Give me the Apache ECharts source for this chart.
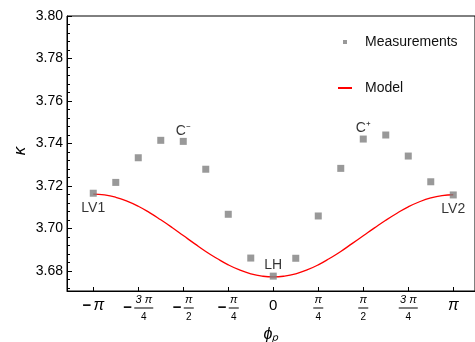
<!DOCTYPE html>
<html><head><meta charset="utf-8">
<script src="https://cdn.jsdelivr.net/npm/echarts@6/dist/echarts.min.js"></script>
<style>html,body{margin:0;padding:0;background:#fff}#c{width:475px;height:342px}</style>
</head><body><div id="c"></div>
<script>
// x ticks, in units of pi/4
const xTickMultiples = [-4, -3, -2, -1, 0, 1, 2, 3, 4];
const xTickLabels = ['−π', '−3π/4', '−π/2', '−π/4', '0', 'π/4', 'π/2', '3π/4', 'π'];
// y ticks
const yTickValues = [3.68, 3.70, 3.72, 3.74, 3.76, 3.78, 3.80];
const yTickLabels = ['3.68', '3.70', '3.72', '3.74', '3.76', '3.78', '3.80'];
// measurements: x in units of pi/8
const measK = [-8, -7, -6, -5, -4, -3, -2, -1, 0, 1, 2, 3, 4, 5, 6, 7, 8];
const measY = [3.7166, 3.7217, 3.7333, 3.7415, 3.7410, 3.7279, 3.7067, 3.6861, 3.6776,
               3.6860, 3.7059, 3.7283, 3.7421, 3.7440, 3.7341, 3.7220, 3.7158];
// point annotations
const annIndex = [0, 4, 8, 12, 16];
const annText = ['LV1', 'C⁻', 'LH', 'C⁺', 'LV2'];
const annPos = ['bottom', 'top', 'top', 'top', 'bottom'];
// model curve: x in units of pi/16
const modelK = [-16,-15,-14,-13,-12,-11,-10,-9,-8,-7,-6,-5,-4,-3,-2,-1,0,1,2,3,4,5,6,7,8,9,10,11,12,13,14,15,16];
const modelY = [3.7162,3.7158,3.7147,3.7129,3.7105,3.7075,3.7041,3.7005,3.6967,3.6929,3.6892,3.6859,3.6829,3.6805,3.6787,3.6776,3.6772,
                3.6776,3.6787,3.6805,3.6829,3.6859,3.6892,3.6929,3.6966,3.7003,3.7039,3.7072,3.7102,3.7126,3.7144,3.7155,3.7159];

const FONT = '"Liberation Sans", Arial, sans-serif';
const xTickValues = xTickMultiples.map(k => k * Math.PI / 4);
const yMinor = [];
for (let i = 0; i < yTickValues.length; i++) {
  for (let j = 1; j < 5; j++) yMinor.push(+(yTickValues[i] - 0.004 * j).toFixed(3));
}

function fmtX(s) {
  let neg = s[0] === '−';
  let body = neg ? s.slice(1) : s;
  if (body.indexOf('/') < 0) {
    if (body === '0') return '{z|0}';
    return (neg ? '{m|−}' : '') + '{p|π}';
  }
  const [num, den] = body.split('/');
  const wide = num.length > 1;
  const nTok = wide ? 'n3' : 'n1', dTok = wide ? 'd3' : 'd1', bTok = wide ? 'b3' : 'b1';
  const numTxt = wide ? num.replace('π', ' π') : num;
  const pre = neg ? '{sp| }' : '';
  return pre + '{' + nTok + '|' + numTxt + '}\n' +
         (neg ? '{m|−}' : '') + '{' + bTok + '| }\n' +
         pre + '{' + dTok + '|' + den + '}';
}

const chart = echarts.init(document.getElementById('c'));
const scatterData = measK.map((k, i) => {
  const d = { value: [k * Math.PI / 8, measY[i]] };
  const a = annIndex.indexOf(i);
  if (a >= 0) {
    d.label = { show: true, formatter: annText[a], position: annPos[a],
                distance: annPos[a] === 'top' ? 0 : 4, color: '#000', fontSize: 14, fontFamily: FONT };
  }
  return d;
});
const modelData = modelK.map((k, i) => [k * Math.PI / 16, modelY[i]]);

chart.setOption({
  animation: false,
  backgroundColor: '#fff',
  textStyle: { fontFamily: FONT },
  grid: { left: 67, right: 0, top: 16, bottom: 51, outerBoundsMode: 'none', containLabel: false,
          show: true, borderColor: '#000', borderWidth: 1, backgroundColor: 'transparent' },
  graphic: [{
    type: 'text', x: 20, y: 151, rotation: Math.PI / 2,
    style: { text: 'κ', font: 'italic 17px "Liberation Sans", Arial, sans-serif', fill: '#000',
             align: 'center', verticalAlign: 'middle' }
  }],
  legend: [
    { data: ['Measurements'], left: 343, top: 35, padding: 0, itemWidth: 4, itemHeight: 4, icon: 'rect',
      textStyle: { fontSize: 14, color: '#111', fontFamily: FONT, padding: [0, 0, 0, 13] } },
    { data: ['Model'], left: 338, top: 81, padding: 0, itemWidth: 14, itemHeight: 2, icon: 'rect',
      textStyle: { fontSize: 14, color: '#111', fontFamily: FONT, padding: [0, 0, 0, 8] } }
  ],
  xAxis: {
    type: 'value', min: -3.6, max: 3.521,
    splitLine: { show: false },
    axisLine: { show: true, onZero: false, lineStyle: { color: '#000', width: 1 } },
    axisTick: { show: true, inside: true, length: 4, customValues: xTickValues, lineStyle: { color: '#000' } },
    axisLabel: {
      customValues: xTickValues, margin: 4, color: '#000',
      formatter: v => {
        let idx = 0, best = 1e9;
        xTickValues.forEach((t, i) => { if (Math.abs(t - v) < best) { best = Math.abs(t - v); idx = i; } });
        return fmtX(xTickLabels[idx]);
      },
      rich: {
        z: { fontSize: 15, lineHeight: 22, color: '#000', fontFamily: FONT },
        p: { fontSize: 16, lineHeight: 22, fontStyle: 'italic', color: '#000', fontFamily: FONT },
        m: { fontSize: 15, fontWeight: 'bold', width: 11, align: 'left', lineHeight: 8, color: '#000', fontFamily: FONT },
        sp: { width: 11, fontSize: 10, lineHeight: 9 },
        n1: { width: 10, align: 'center', fontSize: 11, lineHeight: 9, fontStyle: 'italic', color: '#000', fontFamily: FONT },
        n3: { width: 19, align: 'center', fontSize: 11, lineHeight: 9, fontStyle: 'italic', color: '#000', fontFamily: FONT },
        b1: { width: 10, height: 1, backgroundColor: '#000', fontSize: 1, lineHeight: 8 },
        b3: { width: 19, height: 1, backgroundColor: '#000', fontSize: 1, lineHeight: 8 },
        d1: { width: 10, align: 'center', fontSize: 10, lineHeight: 10, color: '#000', fontFamily: FONT },
        d3: { width: 19, align: 'center', fontSize: 10, lineHeight: 10, color: '#000', fontFamily: FONT }
      }
    },
    name: 'ϕₚ', nameLocation: 'middle', nameGap: 36,
    nameTextStyle: { fontSize: 16, fontStyle: 'italic', color: '#000', fontFamily: FONT }
  },
  yAxis: [
    {
      type: 'value', min: 3.6706, max: 3.80, position: 'left',
      splitLine: { show: false },
      axisLine: { show: true, onZero: false, lineStyle: { color: '#000', width: 1 } },
      axisTick: { show: true, inside: true, length: 5, customValues: yTickValues, lineStyle: { color: '#000' } },
      axisLabel: {
        customValues: yTickValues, margin: 4, fontSize: 14, color: '#000', fontFamily: FONT,
        formatter: v => {
          let idx = 0, best = 1e9;
          yTickValues.forEach((t, i) => { if (Math.abs(t - v) < best) { best = Math.abs(t - v); idx = i; } });
          return yTickLabels[idx];
        }
      }
    },
    {
      type: 'value', min: 3.6706, max: 3.80, position: 'left', offset: 0,
      splitLine: { show: false },
      axisLine: { show: false, onZero: false },
      axisLabel: { show: false },
      axisTick: { show: true, inside: true, length: 3, customValues: yMinor, lineStyle: { color: '#000' } }
    }
  ],
  series: [
    {
      name: 'Model', type: 'line', data: modelData, showSymbol: false, smooth: true, z: 2,
      lineStyle: { color: '#ff0000', width: 1.3 }, itemStyle: { color: '#ff0000' }
    },
    {
      name: 'Measurements', type: 'scatter', data: scatterData, symbol: 'rect', symbolSize: 7, z: 3,
      itemStyle: { color: '#808080' },
      label: { color: '#000', fontSize: 14, fontFamily: FONT }
    }
  ]
});
</script>
</body></html>
